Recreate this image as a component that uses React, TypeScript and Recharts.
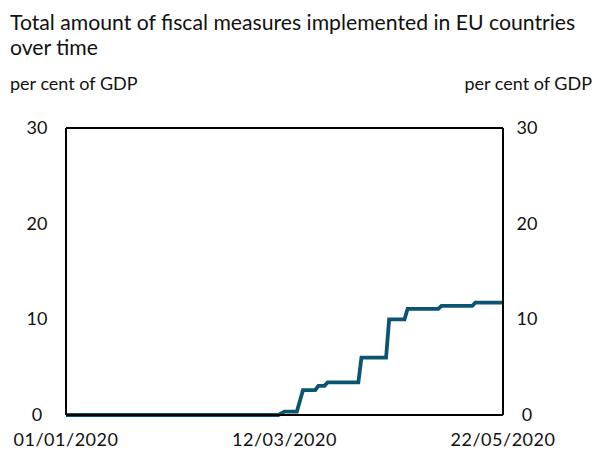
import { LineChart, Line, XAxis, YAxis } from "recharts";

const FONT = "Lato, 'Noto Sans', sans-serif";

// step corners (date, per cent of GDP)
const dates = [
  "2020-01-01", "2020-03-10", "2020-03-12", "2020-03-16", "2020-03-18",
  "2020-03-22", "2020-03-23", "2020-03-25", "2020-03-26", "2020-04-05",
  "2020-04-06", "2020-04-14", "2020-04-15", "2020-04-20", "2020-04-21",
  "2020-05-01", "2020-05-02", "2020-05-12", "2020-05-13", "2020-05-22",
];
const values = [
  0, 0, 0.35, 0.35, 2.6,
  2.6, 3.05, 3.05, 3.4, 3.4,
  6.0, 6.0, 10.0, 10.0, 11.1,
  11.1, 11.4, 11.4, 11.75, 11.75,
];

const xTickLabels = ["01/01/2020", "12/03/2020", "22/05/2020"];
const xTickDays = [0, 71, 142];
const yTicks = [0, 10, 20, 30];

const start = Date.UTC(2020, 0, 1);
const dayOf = (d: string) => {
  const [y, m, dd] = d.split("-").map(Number);
  return Math.round((Date.UTC(y, m - 1, dd) - start) / 86400000);
};

const data = dates.map((d, i) => ({ day: dayOf(d), value: values[i] }));

function LeftTick({ x, y, payload }: any) {
  return (
    <text x={x - 21} y={y} dy={6} textAnchor="middle" fontFamily={FONT} fontSize={18} fill="#111">
      {payload.value}
    </text>
  );
}

function RightTick({ x, y, payload }: any) {
  return (
    <text x={x + 16} y={y} dy={6} textAnchor="middle" fontFamily={FONT} fontSize={18} fill="#111">
      {payload.value}
    </text>
  );
}

function BottomTick({ x, y, payload }: any) {
  const i = xTickDays.indexOf(payload.value);
  return (
    <text x={x} y={y} dy={23} textAnchor="middle" fontFamily={FONT} fontSize={18} letterSpacing={0.5} fill="#111">
      {xTickLabels[i]}
    </text>
  );
}

export default function App() {
  return (
    <div style={{ position: "absolute", left: 0, top: 0, width: 595, height: 450, background: "#fff", fontFamily: FONT, color: "#111" }}>
      <div style={{ position: "absolute", left: 10, top: 10, fontSize: 21.2, lineHeight: "25px", width: 585 }}>
        Total amount of fiscal measures implemented in EU countries over time
      </div>
      <div style={{ position: "absolute", left: 10, top: 72, fontSize: 18 }}>per cent of GDP</div>
      <div style={{ position: "absolute", right: 3, top: 72, fontSize: 18 }}>per cent of GDP</div>
      <LineChart width={595} height={450} data={data} margin={{ top: 127, right: 0, bottom: 0, left: 0 }}>
        <XAxis
          dataKey="day"
          type="number"
          domain={[0, 142]}
          ticks={xTickDays}
          tick={<BottomTick />}
          tickLine={false}
          axisLine={{ stroke: "#000", strokeWidth: 2 }}
          interval={0}
          height={35}
        />
        <XAxis
          xAxisId="top"
          orientation="top"
          dataKey="day"
          type="number"
          domain={[0, 142]}
          ticks={xTickDays}
          tick={false}
          tickLine={false}
          axisLine={{ stroke: "#000", strokeWidth: 2 }}
          height={1}
        />
        <YAxis
          type="number"
          domain={[0, 30]}
          ticks={yTicks}
          tick={<LeftTick />}
          tickLine={false}
          axisLine={{ stroke: "#000", strokeWidth: 2 }}
          width={66}
          interval={0}
        />
        <YAxis
          yAxisId="right"
          type="number"
          orientation="right"
          domain={[0, 30]}
          ticks={yTicks}
          tick={<RightTick />}
          tickLine={false}
          axisLine={{ stroke: "#000", strokeWidth: 2 }}
          width={92}
          interval={0}
          includeHidden
        />
        <Line
          dataKey="value"
          type="linear"
          stroke="#0b5570"
          strokeWidth={3.8}
          dot={false}
          isAnimationActive={false}
        />
        <Line yAxisId="right" dataKey="value" hide legendType="none" isAnimationActive={false} />
      </LineChart>
    </div>
  );
}
